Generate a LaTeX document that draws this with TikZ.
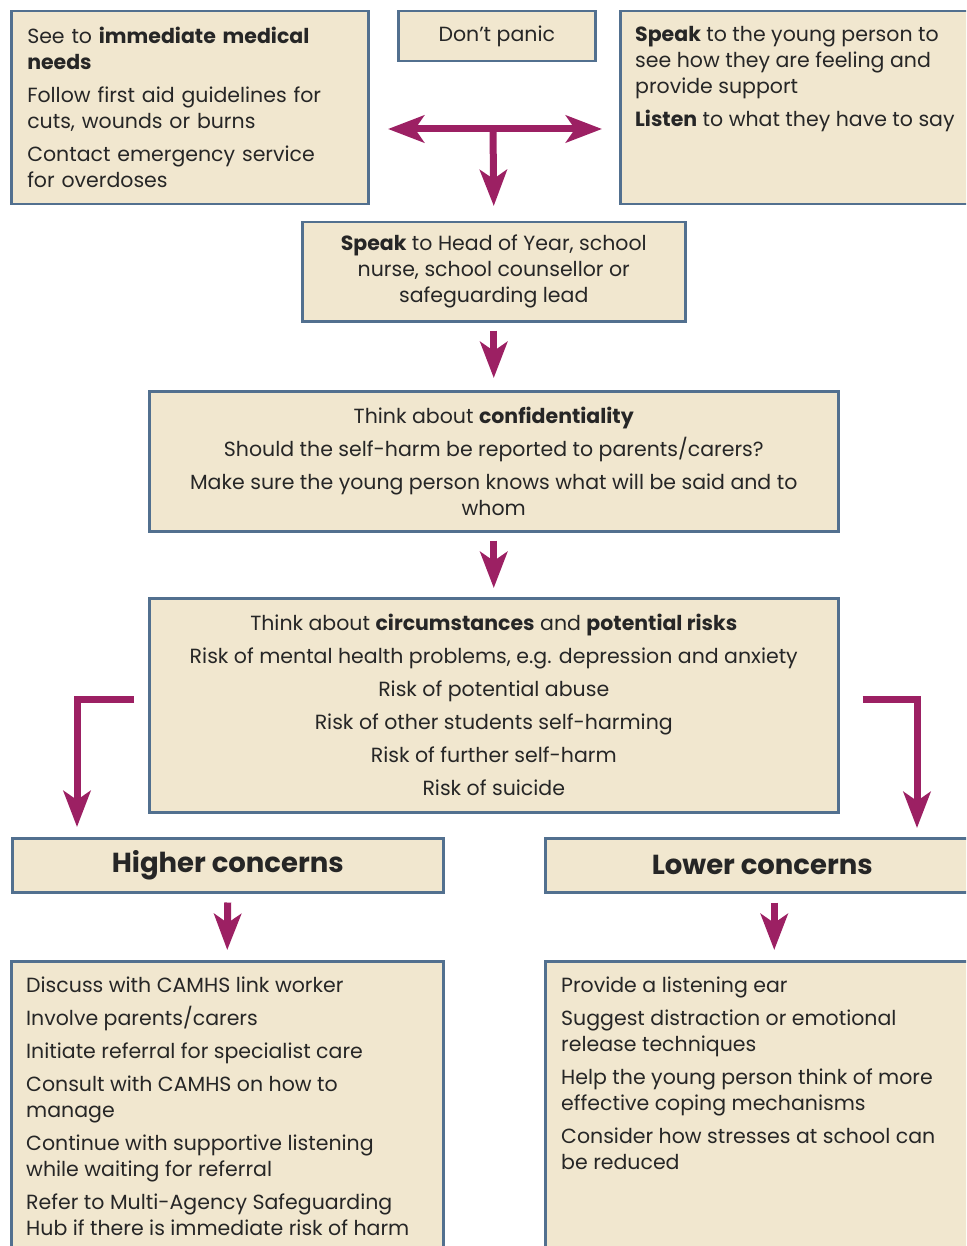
\documentclass[tikz,border=0pt]{standalone}
\usepackage{fontspec}
\setmainfont{Poppins}
\usepackage{xcolor}
\usepackage{tikz}
\definecolor{plum}{RGB}{156, 32, 99}
\definecolor{boxfill}{RGB}{241, 231, 207}
\definecolor{boxedge}{RGB}{82, 112, 143}
\definecolor{ink}{RGB}{38, 38, 38}
\usetikzlibrary{arrows.meta,positioning,calc}
\newcommand{\bodysize}{\fontsize{20.5}{26}\selectfont}
\newcommand{\headsize}{\fontsize{27.5}{32}\selectfont}

\begin{document}
\begin{tikzpicture}[
    x=1pt, y=-1pt,
    box/.style={
        rectangle,
        draw=boxedge,
        fill=boxfill,
        line width=2.5pt,
        anchor=north west,
        inner sep=0pt,
        text=ink,
        font=\bodysize
    },
    words/.style={anchor=north west, inner sep=0pt, align=left, text=ink, font=\bodysize},
    arrow/.style={draw=plum, line width=7pt, -{Stealth[length=36pt,width=27pt,inset=9pt]}},
    twoway/.style={draw=plum, line width=7pt, {Stealth[length=36pt,width=27pt,inset=9pt]}-{Stealth[length=36pt,width=27pt,inset=9pt]}}
]
    \useasboundingbox (0,0) rectangle (966,1246);
    \clip (0,0) rectangle (966,1246);

    % Top row
    \node[box, minimum width=357pt, minimum height=193pt, align=left, text width=325pt] (medical) at (10,10) {
        See to \textbf{immediate medical}\\ \textbf{needs}\\[7pt]
        Follow first aid guidelines for\\ cuts, wounds or burns\\[7pt]
        Contact emergency service\\ for overdoses};
    \node[box, minimum width=197pt, minimum height=50pt] (panic) at (397,10) {Don't panic};
    \node[box, minimum width=359pt, minimum height=193pt] (speak) at (619,10) {};
    \node[words] (speaktext) at (635,26) {
        \textbf{Speak} to the young person to\\ see how they are feeling and\\ provide support\\[7pt]
        \textbf{Listen} to what they have to say};

    \coordinate (split) at (493,129);
    \coordinate (goleft) at (388,129);
    \coordinate (goright) at (602,129);

    % Middle column
    \node[box, minimum width=383pt, minimum height=99pt, align=center] (head) at (301,221) {
        \textbf{Speak} to Head of Year, school\\ nurse, school counsellor or\\ safeguarding lead};
    \node[box, minimum width=689pt, minimum height=140pt, align=center] (conf) at (148,390) {
        Think about \textbf{confidentiality}\\[7pt]
        Should the self-harm be reported to parents/carers?\\[7pt]
        Make sure the young person knows what will be said and to\\ whom};
    \node[box, minimum width=689pt, minimum height=214pt, align=center] (circ) at (148,597) {
        Think about \textbf{circumstances} and \textbf{potential risks}\\[7pt]
        Risk of mental health problems, e.g. depression and anxiety\\[7pt]
        Risk of potential abuse\\[7pt]
        Risk of other students self-harming\\[7pt]
        Risk of further self-harm\\[7pt]
        Risk of suicide};

    % Two branches
    \node[box, minimum width=431pt, minimum height=54pt, font=\headsize\bfseries] (higher) at (11,837) {Higher concerns};
    \node[box, minimum width=434pt, minimum height=54pt, font=\headsize\bfseries] (lower) at (544,837) {Lower concerns};

    \node[box, minimum width=432pt, minimum height=320pt] (hlist) at (10,960) {};
    \node[words] (hlisttext) at (26,977) {
        Discuss with CAMHS link worker\\[7pt]
        Involve parents/carers\\[7pt]
        Initiate referral for specialist care\\[7pt]
        Consult with CAMHS on how to\\ manage\\[7pt]
        Continue with supportive listening\\ while waiting for referral\\[7pt]
        Refer to Multi-Agency Safeguarding\\ Hub if there is immediate risk of harm};
    \node[box, minimum width=434pt, minimum height=320pt] (llist) at (544,960) {};
    \node[words] (llisttext) at (561,977) {
        Provide a listening ear\\[7pt]
        Suggest distraction or emotional\\ release techniques\\[7pt]
        Help the young person think of more\\ effective coping mechanisms\\[7pt]
        Consider how stresses at school can\\ be reduced};

    % Arrows
    \draw[twoway] (goleft) -- (goright);
    \draw[arrow] (split) -- ([yshift=15pt]head.north);
    \draw[arrow] ([yshift=-8pt]head.south) -- ([yshift=12pt]conf.north);
    \draw[arrow] ([yshift=-8pt]conf.south) -- ([yshift=9pt]circ.north);
    \draw[arrow] ([xshift=-14pt,yshift=6pt]circ.west) -| ([xshift=66pt,yshift=10pt]higher.north west);
    \draw[arrow] ([xshift=23pt,yshift=6pt]circ.east) -| ([xshift=373pt,yshift=9pt]lower.north west);
    \draw[arrow] ([yshift=-9pt]higher.south) -- ([yshift=10pt]hlist.north);
    \draw[arrow] ([xshift=12pt,yshift=-9pt]lower.south) -- ([xshift=12pt,yshift=10pt]llist.north);
\end{tikzpicture}
\end{document}
